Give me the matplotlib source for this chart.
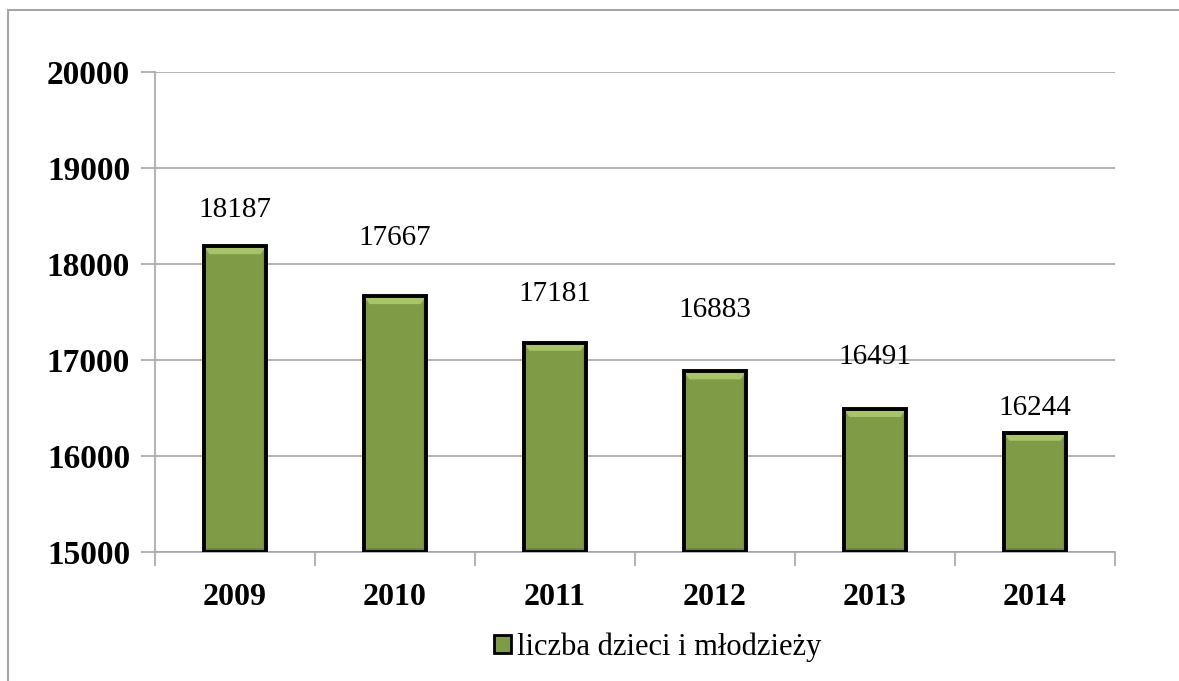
import matplotlib
matplotlib.use("Agg")
import matplotlib.pyplot as plt
from matplotlib.patches import Polygon, Rectangle, Patch
import numpy as np

years = ["2009", "2010", "2011", "2012", "2013", "2014"]
values = [18187, 17667, 17181, 16883, 16491, 16244]
yticks = [15000, 16000, 17000, 18000, 19000, 20000]
series_name = "liczba dzieci i młodzieży"
# label vertical offsets (points) above bar tops, as placed in the original
label_offsets = [26, 42, 35, 44, 37, 18]

W, H = 1179, 681
fig = plt.figure(figsize=(W / 100, H / 100), dpi=100)
fig.patch.set_facecolor("white")
plt.rcParams["font.family"] = ["Liberation Serif", "DejaVu Serif"]

# outer frame
fig.add_artist(plt.Line2D([8 / W, 8 / W], [0, 1 - 10 / H], color="#a6a6a6", lw=1.5,
                          transform=fig.transFigure))
fig.add_artist(plt.Line2D([8 / W, 1], [1 - 10 / H, 1 - 10 / H], color="#a6a6a6", lw=1.5,
                          transform=fig.transFigure))

ax = fig.add_axes([155 / W, 1 - 552 / H, (1115 - 155) / W, (552 - 72) / H])
x = np.arange(len(years))
bw = 0.39
face = "#7f9b45"
ax.set_xlim(-0.5, len(years) - 0.5)
ax.set_ylim(15000, 20000)
ax.set_yticks(yticks)
ax.set_yticklabels([str(t) for t in yticks], fontsize=24, fontweight="bold")
ax.yaxis.grid(True, color="#a6a6a6", lw=1.2)
ax.set_axisbelow(True)
for s in ["top", "right"]:
    ax.spines[s].set_visible(False)
ax.spines["left"].set_color("#a6a6a6")
ax.spines["bottom"].set_color("#a6a6a6")
ax.spines["left"].set_linewidth(1.2)
ax.spines["bottom"].set_linewidth(1.2)
ax.tick_params(axis="y", length=10, width=1.2, color="#a6a6a6", pad=8)

# category boundary ticks on x axis
ax.set_xticks(np.arange(-0.5, len(years), 1.0), minor=True)
ax.set_xticks(x)
ax.set_xticklabels(years, fontsize=23, fontweight="bold")
ax.tick_params(axis="x", which="major", length=0, pad=22)
ax.tick_params(axis="x", which="minor", length=10, width=1.2, color="#a6a6a6")

bars = ax.bar(x, [v - 15000 for v in values], bottom=15000, width=bw, color=face,
              edgecolor="none", zorder=3)

# bevel shading
for b, v in zip(bars, values):
    x0 = b.get_x()
    x1 = x0 + b.get_width()
    dx = b.get_width() * 0.09
    dy = 85
    top = v
    ax.add_patch(Polygon([[x0, top], [x1, top], [x1 - dx, top - dy], [x0 + dx, top - dy]],
                         closed=True, facecolor="#a7c466", edgecolor="none", zorder=3.5))
    ax.add_patch(Polygon([[x1, top], [x1, 15000], [x1 - dx * 0.5, 15000 + 40], [x1 - dx * 0.5, top - dy]],
                         closed=True, facecolor="#6e8a3a", edgecolor="none", zorder=3.5))
    ax.add_patch(Polygon([[x0, 15000], [x1, 15000], [x1 - dx * 0.5, 15000 + 40], [x0 + dx * 0.5, 15000 + 40]],
                         closed=True, facecolor="#6a8436", edgecolor="none", zorder=3.5))
    ax.add_patch(Rectangle((x0, 15000), b.get_width(), top - 15000, fill=False,
                           edgecolor="black", linewidth=2.8, zorder=4))

for xi, v, off in zip(x, values, label_offsets):
    ax.annotate(str(v), (xi, v), xytext=(0, off), textcoords="offset points",
                ha="center", va="center", fontsize=21)

# legend
handle = Patch(facecolor=face, edgecolor="black", linewidth=2)
fig.legend([handle], [series_name], loc="center", bbox_to_anchor=(658 / W, 1 - 647 / H),
           frameon=False, fontsize=22, handlelength=0.55, handleheight=0.55, handletextpad=0.2)

fig.savefig("out.png", dpi=100)
